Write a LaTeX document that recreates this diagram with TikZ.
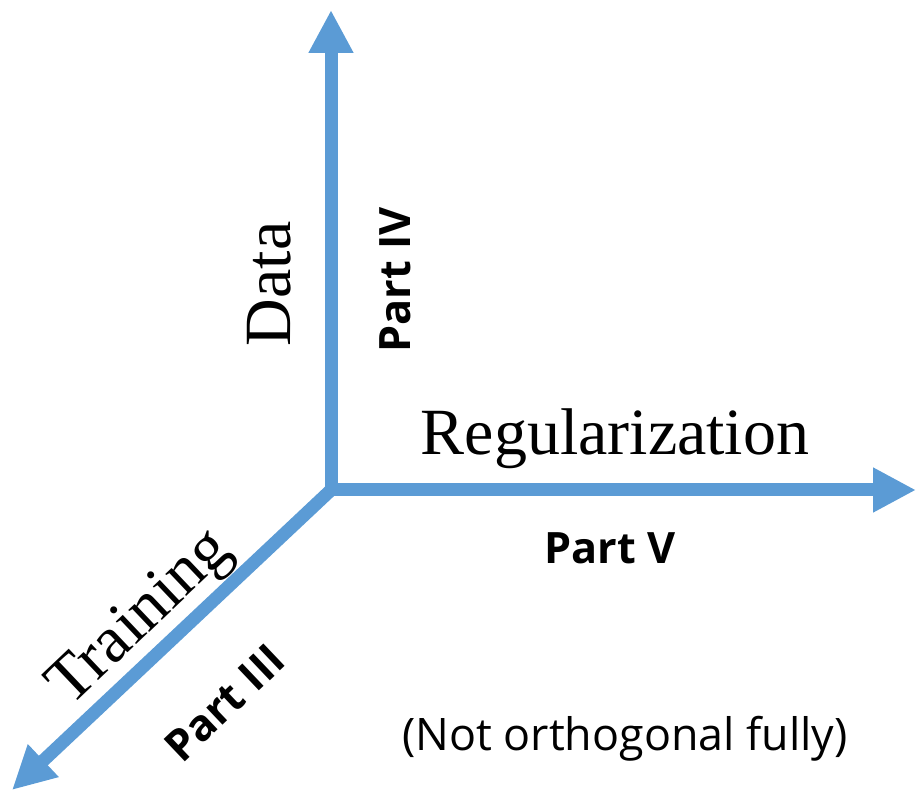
\documentclass[tikz,border=0pt]{standalone}
\usepackage{fontspec}
\setmainfont{Liberation Serif}
\setsansfont{Open Sans}
\usetikzlibrary{arrows.meta}

\begin{document}
\begin{tikzpicture}[x=0.5pt,y=-0.5pt,
    axis/.style={line width=6.5pt, draw=axiscolor, line cap=round, -{Triangle[width=21pt,length=21.5pt]}},
    axisname/.style={font=\fontsize{33}{33}\selectfont, anchor=base, inner sep=0pt},
    partname/.style={font=\sffamily\bfseries\fontsize{21.6}{22}\selectfont, anchor=base, inner sep=0pt}]
        % Define the axis color
        \definecolor{axiscolor}{RGB}{91,155,213} % blue axes

        \useasboundingbox (0,0) rectangle (923,792);

        % Axis ends
        \coordinate (origin) at (331,490); % where the axes meet
        \coordinate (dataend) at (331,10); % top arrow tip
        \coordinate (regend) at (916,490); % right arrow tip
        \coordinate (trainend) at (12,790); % bottom left arrow tip

        % Draw axes
        \draw[axis] (origin) -- (dataend); % data axis
        \draw[axis] (origin) -- (regend); % regularization axis
        \draw[axis] (origin) -- (trainend); % training axis

        % Axis names
        \node[axisname, rotate=90] (data) at (290,284) {Data}; % Data label
        \node[axisname] (reg) at (615,454) {Regularization}; % Regularization label
        \node[axisname, rotate=43.5] (train) at (152,630) {Training}; % Training label

        % Part labels
        \node[partname, rotate=90] (partfour) at (410,280) {Part IV}; % Part IV label
        \node[partname] (partfive) at (610,563) {Part V}; % Part V label
        \node[partname, rotate=43.5] (partthree) at (235,714) {Part III}; % Part III label

        % Note
        \node[font=\sffamily\fontsize{22.4}{23}\selectfont, anchor=base, inner sep=0pt] (note) at (625,750) {(Not orthogonal fully)}; % note text
    \end{tikzpicture}
\end{document}
